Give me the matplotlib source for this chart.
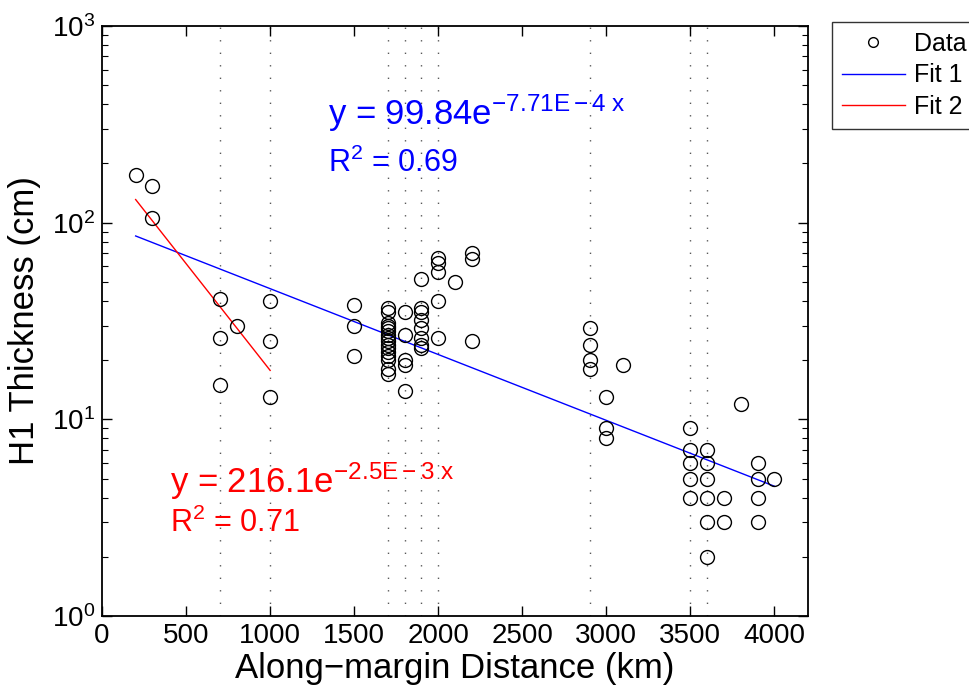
import numpy as np
import matplotlib
matplotlib.use("Agg")
import matplotlib.pyplot as plt
from matplotlib.lines import Line2D
from matplotlib.ticker import LogLocator, FixedLocator

plt.rcParams['font.family'] = ['Liberation Sans', 'DejaVu Sans']
plt.rcParams['mathtext.fontset'] = 'custom'
plt.rcParams['mathtext.rm'] = 'Liberation Sans'
plt.rcParams['mathtext.it'] = 'Liberation Sans'
plt.rcParams['mathtext.bf'] = 'Liberation Sans'

# Data: along-margin distance (km) and H1 thickness (cm)
distance = [200, 300, 300,
            700, 700, 700, 800,
            1000, 1000, 1000,
            1500, 1500, 1500,
            1700, 1700, 1700, 1700, 1700, 1700, 1700, 1700, 1700, 1700, 1700, 1700, 1700, 1700, 1700, 1700,
            1800, 1800, 1800, 1800, 1800,
            1900, 1900, 1900, 1900, 1900, 1900, 1900, 1900,
            2000, 2000, 2000, 2000, 2000,
            2100,
            2200, 2200, 2200,
            2900, 2900, 2900, 2900,
            3000, 3000, 3000,
            3100,
            3500, 3500, 3500, 3500, 3500,
            3600, 3600, 3600, 3600, 3600, 3600,
            3700, 3700,
            3800,
            3900, 3900, 3900, 3900,
            4000]
thickness = [174, 153, 105,
             41, 26, 15, 30,
             40, 25, 13,
             38, 30, 21,
             37, 35, 31, 30, 29, 28, 27, 26, 25, 24, 23, 22, 21, 20, 18, 17,
             35, 27, 20, 19, 14,
             52, 37, 35, 32, 29, 26, 24, 23,
             66, 62, 56, 40, 26,
             50,
             70, 65, 25,
             29, 24, 20, 18,
             13, 9, 8,
             19,
             9, 7, 6, 5, 4,
             7, 6, 5, 4, 3, 2,
             4, 3,
             12,
             6, 5, 4, 3,
             5]

site_lines = [700, 1000, 1700, 1800, 1900, 2000, 2900, 3500, 3600]

fit1_a, fit1_b, fit1_range = 99.84, -7.71e-4, (200, 4000)
fit2_a, fit2_b, fit2_range = 216.1, -2.5e-3, (200, 1000)

fig = plt.figure(figsize=(9.69, 6.91), dpi=100)
ax = fig.add_axes([0.1053, 0.1085, 0.7286, 0.8539])

for xv in site_lines:
    ax.axvline(xv, color='0.35', linestyle=(0, (1, 8)), linewidth=1.0, zorder=1)

ax.plot(distance, thickness, linestyle='none', marker='o', markersize=10,
        markerfacecolor='none', markeredgecolor='black', markeredgewidth=1.0, zorder=3)

x1 = np.linspace(*fit1_range, 100)
ax.plot(x1, fit1_a * np.exp(fit1_b * x1), color='blue', linewidth=1.0, zorder=2)
x2 = np.linspace(*fit2_range, 100)
ax.plot(x2, fit2_a * np.exp(fit2_b * x2), color='red', linewidth=1.0, zorder=2)

ax.set_yscale('log')
ax.set_xlim(0, 4200)
ax.set_ylim(1, 1000)
ax.xaxis.set_major_locator(FixedLocator(np.arange(0, 4001, 500)))
ax.yaxis.set_major_locator(LogLocator(base=10, numticks=10))
ax.yaxis.set_minor_locator(LogLocator(base=10, subs=np.arange(2, 10), numticks=20))

ax.tick_params(which='both', direction='in', top=True, right=True, labelsize=20)
ax.tick_params(which='major', length=7, width=1.0)
ax.tick_params(which='minor', length=4, width=0.8)
ax.tick_params(axis='x', pad=5)
ax.tick_params(axis='y', pad=5)
for s in ax.spines.values():
    s.set_linewidth(1.3)

ax.set_xlabel('Along\u2212margin Distance (km)', fontsize=25, labelpad=2)
ax.set_ylabel('H1 Thickness (cm)', fontsize=25, labelpad=8)

ax.text(1345, 313, r'y = 99.84e$^{\mathregular{-7.71E-4\ x}}$', color='blue', fontsize=25)
ax.text(1345, 181, r'R$^{\mathregular{2}}$ = 0.69', color='blue', fontsize=22)
ax.text(405, 4.22, r'y = 216.1e$^{\mathregular{-2.5E-3\ x}}$', color='red', fontsize=25)
ax.text(405, 2.67, r'R$^{\mathregular{2}}$ = 0.71', color='red', fontsize=22)

handles = [Line2D([], [], linestyle='none', marker='o', markersize=7,
                  markerfacecolor='none', markeredgecolor='black'),
           Line2D([], [], color='blue', linewidth=1.0),
           Line2D([], [], color='red', linewidth=1.0)]
leg = fig.legend(handles, ['Data', 'Fit 1', 'Fit 2'], loc='upper left',
                 bbox_to_anchor=(832 / 969, 1 - 22 / 691), fontsize=18,
                 frameon=True, fancybox=False, borderpad=0.4, labelspacing=0.3,
                 handlelength=2.5, handletextpad=0.36, borderaxespad=0)
leg.get_frame().set_edgecolor('black')
leg.get_frame().set_linewidth(1.0)

fig.savefig('out.png', dpi=100)
